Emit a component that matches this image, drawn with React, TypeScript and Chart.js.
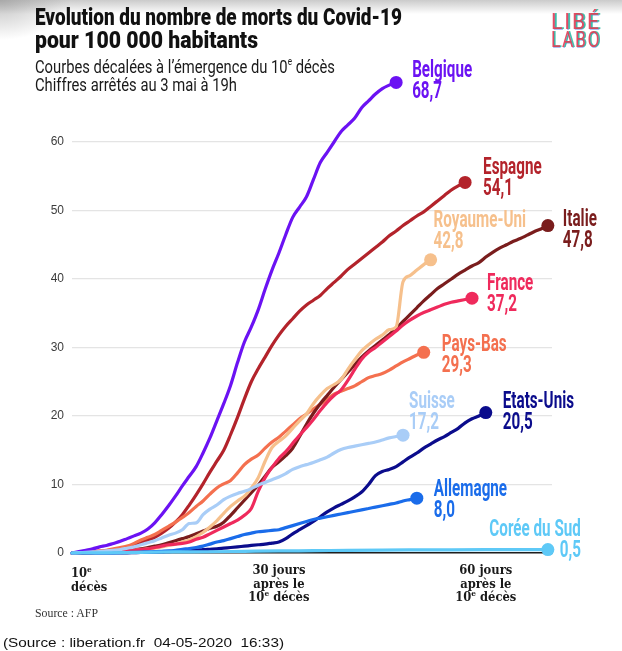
import React, { useEffect, useLayoutEffect, useRef } from 'react';
import { Chart, registerables } from 'chart.js';
Chart.register(...registerables);

// ---- DATA (deaths per 100 000 inhabitants, by day since the 10th death) ----
const countries = ['Belgique', 'Espagne', 'Royaume-Uni', 'Italie', 'France', 'Pays-Bas', 'Suisse', 'Etats-Unis', 'Allemagne', 'Corée du Sud'];
const endValueLabels = ['68,7', '54,1', '42,8', '47,8', '37,2', '29,3', '17,2', '20,5', '8,0', '0,5'];

const belgique = [0, 0.2, 0.4, 0.6, 0.9, 1.1, 1.4, 1.7, 2.1, 2.5, 2.9, 3.5, 4.4, 5.6, 6.9, 8.3, 9.8, 11.2, 12.6, 14.6, 16.8, 19.3, 21.8, 24.5, 27.8, 30.8, 33.0, 35.5, 38.5, 41.3, 43.8, 46.5, 49.0, 50.5, 52.0, 54.5, 57.0, 58.5, 60.0, 61.5, 62.5, 63.5, 65.0, 66.0, 67.0, 67.8, 68.3, 68.7];
const espagne = [0, 0.05, 0.1, 0.15, 0.2, 0.3, 0.4, 0.6, 0.8, 1.1, 1.5, 1.9, 2.3, 2.9, 3.6, 4.5, 5.6, 7.0, 8.5, 10.1, 11.8, 13.4, 15.0, 17.3, 19.8, 22.5, 25.0, 26.9, 28.6, 30.3, 31.8, 33.1, 34.2, 35.3, 36.2, 36.9, 37.6, 38.6, 39.5, 40.4, 41.4, 42.2, 43.0, 43.8, 44.6, 45.4, 46.3, 47.0, 47.8, 48.5, 49.2, 49.8, 50.6, 51.4, 52.2, 53.0, 53.6, 54.1];
const royaumeUni = [0, 0, 0, 0.05, 0.1, 0.1, 0.15, 0.2, 0.3, 0.4, 0.5, 0.6, 0.7, 0.9, 1.1, 1.3, 1.6, 1.9, 2.4, 3.0, 3.8, 4.7, 5.8, 6.8, 7.6, 8.3, 9.5, 11.0, 13.4, 15.4, 16.3, 17.1, 18.2, 19.3, 20.3, 21.8, 23.0, 24.0, 24.6, 25.3, 26.8, 28.2, 29.5, 30.4, 31.2, 31.8, 32.6, 33.0, 39.6, 40.5, 41.3, 42.1, 42.8];
const italie = [0, 0, 0.05, 0.1, 0.1, 0.15, 0.2, 0.3, 0.4, 0.5, 0.6, 0.8, 1.0, 1.2, 1.5, 1.8, 2.1, 2.4, 2.8, 3.2, 3.6, 3.9, 4.5, 5.5, 6.6, 7.7, 8.8, 9.9, 11.2, 12.5, 13.3, 14.2, 15.3, 17.0, 18.8, 20.4, 21.8, 23.0, 24.2, 25.3, 26.4, 27.5, 28.6, 29.5, 30.3, 31.1, 31.9, 32.8, 33.8, 34.8, 35.8, 36.8, 37.7, 38.6, 39.3, 40.0, 40.7, 41.3, 41.9, 42.4, 43.2, 43.9, 44.5, 45.0, 45.5, 45.9, 46.4, 46.9, 47.3, 47.8];
const france = [0, 0, 0, 0.05, 0.1, 0.1, 0.15, 0.2, 0.3, 0.4, 0.5, 0.6, 0.8, 1.0, 1.2, 1.3, 1.4, 1.6, 2.0, 2.3, 2.8, 3.3, 3.8, 4.3, 4.8, 5.5, 6.5, 9.0, 11.0, 12.5, 13.8, 14.8, 16.0, 17.2, 18.3, 19.5, 20.8, 22.0, 23.0, 23.8, 25.2, 26.8, 28.3, 29.3, 30.0, 30.8, 31.6, 32.4, 33.3, 34.0, 34.6, 35.1, 35.5, 35.9, 36.3, 36.6, 36.8, 37.0, 37.2];
const paysBas = [0, 0.05, 0.1, 0.2, 0.3, 0.4, 0.6, 0.8, 1.0, 1.4, 1.9, 2.3, 2.7, 3.3, 3.9, 4.5, 5.2, 5.9, 6.8, 7.6, 8.6, 9.5, 10.1, 10.6, 11.7, 12.9, 13.7, 14.3, 15.3, 16.2, 16.9, 17.8, 18.7, 19.6, 20.3, 21.0, 21.7, 22.4, 23.2, 23.6, 24.0, 24.4, 25.0, 25.6, 25.9, 26.2, 26.7, 27.3, 27.9, 28.4, 28.9, 29.3];
const suisse = [0, 0.05, 0.1, 0.15, 0.2, 0.3, 0.4, 0.5, 0.7, 0.9, 1.2, 1.5, 1.8, 2.2, 2.6, 2.9, 3.4, 4.3, 4.4, 5.6, 6.4, 7.0, 7.8, 8.3, 8.7, 9.0, 9.4, 9.9, 10.3, 10.7, 11.1, 11.6, 12.2, 12.6, 12.9, 13.2, 13.6, 14.0, 14.6, 15.1, 15.4, 15.6, 15.8, 16.0, 16.2, 16.5, 16.8, 17.0, 17.2];
const etatsUnis = [0, 0, 0, 0, 0, 0, 0, 0.02, 0.03, 0.05, 0.07, 0.1, 0.12, 0.15, 0.2, 0.25, 0.3, 0.35, 0.4, 0.5, 0.55, 0.6, 0.7, 0.8, 0.9, 1.0, 1.1, 1.2, 1.3, 1.45, 1.6, 2.1, 2.8, 3.4, 4.0, 4.6, 5.3, 6.0, 6.6, 7.1, 7.6, 8.2, 8.9, 10.0, 11.3, 11.9, 12.2, 12.6, 13.3, 14.0, 14.6, 15.3, 15.9, 16.5, 17.0, 17.6, 18.2, 19.0, 19.6, 20.0, 20.5];
const allemagne = [0, 0, 0, 0, 0, 0.02, 0.03, 0.05, 0.07, 0.1, 0.13, 0.17, 0.2, 0.25, 0.3, 0.4, 0.55, 0.65, 0.8, 1.0, 1.3, 1.6, 1.8, 2.1, 2.4, 2.7, 2.9, 3.1, 3.2, 3.3, 3.4, 3.7, 4.0, 4.3, 4.6, 4.9, 5.1, 5.3, 5.5, 5.7, 5.9, 6.1, 6.3, 6.5, 6.7, 6.9, 7.1, 7.3, 7.6, 7.8, 8.0];
const coreeDays = [0, 5, 10, 15, 20, 25, 30, 35, 40, 45, 50, 55, 60, 65, 69];
const coree = [0, 0.03, 0.1, 0.15, 0.18, 0.24, 0.3, 0.34, 0.39, 0.43, 0.45, 0.47, 0.48, 0.49, 0.5];

const yTicks = [0, 10, 20, 30, 40, 50, 60];
const xTickLabels: { value: number; lines: string[] }[] = [
  { value: 0, lines: ['10^e', 'décès'] },
  { value: 30, lines: ['30 jours', 'après le', '10^e décès'] },
  { value: 60, lines: ['60 jours', 'après le', '10^e décès'] },
];

// ---- STYLE ----
const seriesColors: Record<string, string> = {
  'Belgique': '#6b12f3',
  'Espagne': '#b3232b',
  'Royaume-Uni': '#f6c08c',
  'Italie': '#7a1d1d',
  'France': '#ef2a5c',
  'Pays-Bas': '#f4704f',
  'Suisse': '#a9cdf7',
  'Etats-Unis': '#0b0c8c',
  'Allemagne': '#1a6cea',
  'Corée du Sud': '#5ec9f7',
};
const labelPlacement: Record<string, { dx: number; dy: number; align: 'left' | 'right' }> = {
  'Belgique': { dx: 16, dy: -5, align: 'left' },
  'Espagne': { dx: 18, dy: -8, align: 'left' },
  'Royaume-Uni': { dx: 3, dy: -33, align: 'left' },
  'Italie': { dx: 15, dy: 0, align: 'left' },
  'France': { dx: 15, dy: -8, align: 'left' },
  'Pays-Bas': { dx: 18, dy: -1, align: 'left' },
  'Suisse': { dx: 6, dy: -27, align: 'left' },
  'Etats-Unis': { dx: 17, dy: -5, align: 'left' },
  'Allemagne': { dx: 17, dy: -2, align: 'left' },
  'Corée du Sud': { dx: 33, dy: -14, align: 'right' },
};
const drawOrder = ['Corée du Sud', 'Suisse', 'Allemagne', 'Etats-Unis', 'Belgique', 'France', 'Royaume-Uni', 'Italie', 'Pays-Bas', 'Espagne'];

const seriesValues: Record<string, number[]> = {
  'Belgique': belgique, 'Espagne': espagne, 'Royaume-Uni': royaumeUni, 'Italie': italie, 'France': france,
  'Pays-Bas': paysBas, 'Suisse': suisse, 'Etats-Unis': etatsUnis, 'Allemagne': allemagne, 'Corée du Sud': coree,
};

const W = 622, H = 651;
const AREA = { left: 72, right: 552, top: 73.5, bottom: 553 };

function drawRich(ctx: CanvasRenderingContext2D, str: string, x: number, y: number, align: string, size: number, family: string, weight: string, sx: number) {
  const parts: { t: string; sup: boolean; w?: number }[] = [];
  let buf = '';
  for (let i = 0; i < str.length; i++) {
    if (str[i] === '^') {
      if (buf) parts.push({ t: buf, sup: false });
      buf = '';
      parts.push({ t: str[i + 1], sup: true });
      i++;
    } else buf += str[i];
  }
  if (buf) parts.push({ t: buf, sup: false });
  const fN = `${weight} ${size}px ${family}`;
  const fS = `${weight} ${Math.round(size * 0.62)}px ${family}`;
  let w = 0;
  for (const p of parts) { ctx.font = p.sup ? fS : fN; p.w = ctx.measureText(p.t).width; w += p.w; }
  const tw = w * sx;
  const start = align === 'left' ? x : align === 'center' ? x - tw / 2 : x - tw;
  ctx.save();
  ctx.translate(start, y);
  ctx.scale(sx, 1);
  ctx.textAlign = 'left';
  ctx.textBaseline = 'alphabetic';
  let cx = 0;
  for (const p of parts) {
    ctx.font = p.sup ? fS : fN;
    ctx.fillText(p.t, cx, p.sup ? -size * 0.4 : 0);
    cx += p.w || 0;
  }
  ctx.restore();
}

const endLabelsPlugin = {
  id: 'endLabels',
  afterDatasetsDraw(chart: any) {
    const ctx: CanvasRenderingContext2D = chart.ctx;
    const size = 24, fam = 'Roboto, "Liberation Sans", sans-serif', wt = '700';
    ctx.save();
    ctx.font = `${wt} ${size}px ${fam}`;
    const sx = 60 / ctx.measureText('Belgique').width;
    chart.data.datasets.forEach((ds: any, i: number) => {
      const meta = chart.getDatasetMeta(i);
      const pt = meta.data[meta.data.length - 1];
      if (!pt) return;
      const pl = labelPlacement[ds.label];
      const val = endValueLabels[countries.indexOf(ds.label)];
      ctx.fillStyle = ds.borderColor;
      drawRich(ctx, ds.label, pt.x + pl.dx, pt.y + pl.dy, pl.align, size, fam, wt, sx);
      drawRich(ctx, val, pt.x + pl.dx, pt.y + pl.dy + 21, pl.align, size, fam, wt, sx);
    });
    ctx.restore();
  },
};

const xLabelsPlugin = {
  id: 'xLabels',
  afterDraw(chart: any) {
    const ctx: CanvasRenderingContext2D = chart.ctx;
    const xs = chart.scales.x;
    const size = 12.5, fam = '"DejaVu Serif", serif', wt = '700';
    ctx.save();
    ctx.font = `${wt} ${size}px ${fam}`;
    const sx = 53 / ctx.measureText('30 jours').width;
    ctx.fillStyle = '#1a1a1a';
    const bottom = chart.chartArea.bottom;
    xTickLabels.forEach((t) => {
      const px = xs.getPixelForValue(t.value);
      const first = t.value === 0;
      t.lines.forEach((ln, j) => {
        const y = bottom + (first ? 24 : 21) + j * 13.5;
        drawRich(ctx, ln, first ? px - 1 : px, y, first ? 'left' : 'center', size, fam, wt, sx);
      });
    });
    ctx.restore();
  },
};

function FitText({ children, left, top, width, style }: any) {
  const ref = useRef<HTMLSpanElement>(null);
  useLayoutEffect(() => {
    const el = ref.current;
    if (!el) return;
    const fit = () => {
      el.style.transform = 'none';
      const w = el.getBoundingClientRect().width;
      if (w > 0) el.style.transform = `scaleX(${width / w})`;
    };
    fit();
    const f: any = (document as any).fonts;
    if (f && f.ready) f.ready.then(fit);
  }, [width]);
  return (
    <span ref={ref} style={{ position: 'absolute', left, top, whiteSpace: 'pre', display: 'inline-block', transformOrigin: '0 0', ...style }}>
      {children}
    </span>
  );
}

export default function App() {
  const canvasRef = useRef<HTMLCanvasElement>(null);

  useEffect(() => {
    if (!canvasRef.current) return;
    const datasets = drawOrder.map((name) => {
      const vals = seriesValues[name];
      const data = name === 'Corée du Sud'
        ? vals.map((v, i) => ({ x: coreeDays[i], y: v }))
        : vals.map((v, i) => ({ x: i, y: v }));
      return {
        label: name,
        data,
        borderColor: seriesColors[name],
        backgroundColor: seriesColors[name],
        borderWidth: 3.2,
        borderCapStyle: 'round' as const,
        borderJoinStyle: 'round' as const,
        cubicInterpolationMode: 'monotone' as const,
        fill: false,
        clip: false as any,
        pointRadius: (c: any) => (c.dataIndex === data.length - 1 ? 6.5 : 0),
        pointHoverRadius: (c: any) => (c.dataIndex === data.length - 1 ? 6.5 : 0),
        pointBorderWidth: 0,
        pointBackgroundColor: seriesColors[name],
      };
    });
    const chart = new Chart(canvasRef.current, {
      type: 'line',
      data: { datasets },
      options: {
        animation: false,
        responsive: false,
        maintainAspectRatio: false,
        events: [],
        layout: { padding: { left: 0, top: AREA.top, right: W - AREA.right, bottom: H - AREA.bottom } },
        plugins: { legend: { display: false }, tooltip: { enabled: false }, title: { display: false } },
        scales: {
          x: {
            type: 'linear',
            min: 0,
            max: 69.6,
            grid: { display: false },
            border: { display: true, color: '#1e1e1e', width: 1.5 },
            ticks: { display: false },
            afterFit: (s: any) => { s.height = 0; },
          },
          y: {
            min: 0,
            max: 70,
            afterBuildTicks: (s: any) => { s.ticks = [...yTicks, 70].map((v) => ({ value: v })); },
            ticks: {
              padding: 8,
              color: '#3c3c3c',
              font: { family: '"Liberation Sans", Arial, sans-serif', size: 12 },
              callback: (v: any) => (yTicks.includes(Number(v)) ? String(v) : ''),
            },
            grid: {
              color: (c: any) => (c.tick && yTicks.includes(c.tick.value) ? '#e4e4e4' : 'rgba(0,0,0,0)'),
              lineWidth: 1.3,
              drawTicks: false,
            },
            border: { display: false },
            afterFit: (s: any) => { s.width = AREA.left; },
          },
        },
      },
      plugins: [endLabelsPlugin, xLabelsPlugin],
    });
    return () => chart.destroy();
  }, []);

  const condensed = 'Roboto, "Liberation Sans", sans-serif';
  return (
    <div style={{ position: 'absolute', left: 0, top: 0, width: W, height: H, background: '#fff', overflow: 'hidden' }}>
      <div style={{ position: 'absolute', left: 0, top: 0, width: W, height: 40, background: 'linear-gradient(180deg, rgba(160,160,160,0.55) 0px, rgba(255,255,255,0) 14px)' }} />
      <div style={{ position: 'absolute', left: 0, top: 0, width: 120, height: 60, background: 'radial-gradient(ellipse 70px 40px at 0 0, rgba(140,140,140,0.55), rgba(255,255,255,0))' }} />
      <canvas ref={canvasRef} width={W} height={H} style={{ position: 'absolute', left: 0, top: 0, width: W, height: H, display: 'block' }} />
      <FitText left={35} top={4.8} width={367} style={{ fontFamily: condensed, fontWeight: 900, fontSize: 24, lineHeight: '24px', color: '#111' }}>
        Evolution du nombre de morts du Covid-19
      </FitText>
      <FitText left={35} top={27.8} width={223} style={{ fontFamily: condensed, fontWeight: 900, fontSize: 24, lineHeight: '24px', color: '#111' }}>
        pour 100 000 habitants
      </FitText>
      <FitText left={35} top={56.7} width={300} style={{ fontFamily: condensed, fontWeight: 400, fontSize: 19, lineHeight: '19px', color: '#1a1a1a' }}>
        Courbes décalées à l’émergence du 10<span style={{ fontSize: '0.55em', position: 'relative', top: '-0.75em' }}>e</span> décès
      </FitText>
      <FitText left={35} top={74.7} width={202} style={{ fontFamily: condensed, fontWeight: 400, fontSize: 19, lineHeight: '19px', color: '#1a1a1a' }}>
        Chiffres arrêtés au 3 mai à 19h
      </FitText>
      <FitText left={551} top={9.6} width={50} style={{ fontFamily: condensed, fontWeight: 400, fontSize: 22.5, lineHeight: '22.5px', letterSpacing: 2, color: 'rgba(228,60,84,0.9)', textShadow: '2px 0 0 rgba(40,185,160,0.85), 1px 1px 0 rgba(70,110,225,0.45)' }}>
        LIBÉ
      </FitText>
      <FitText left={551} top={27.6} width={50} style={{ fontFamily: condensed, fontWeight: 400, fontSize: 22.5, lineHeight: '22.5px', letterSpacing: 2, color: 'rgba(228,60,84,0.9)', textShadow: '2px 0 0 rgba(40,185,160,0.85), 1px 1px 0 rgba(70,110,225,0.45)' }}>
        LABO
      </FitText>
      <FitText left={35} top={607} width={63} style={{ fontFamily: '"Liberation Serif", serif', fontSize: 12, lineHeight: '12px', color: '#333' }}>
        Source : AFP
      </FitText>
      <FitText left={3} top={636.5} width={281} style={{ fontFamily: '"Liberation Sans", Arial, sans-serif', fontSize: 12, lineHeight: '12px', color: '#111' }}>
        {'(Source : liberation.fr  04-05-2020  16:33)'}
      </FitText>
    </div>
  );
}
